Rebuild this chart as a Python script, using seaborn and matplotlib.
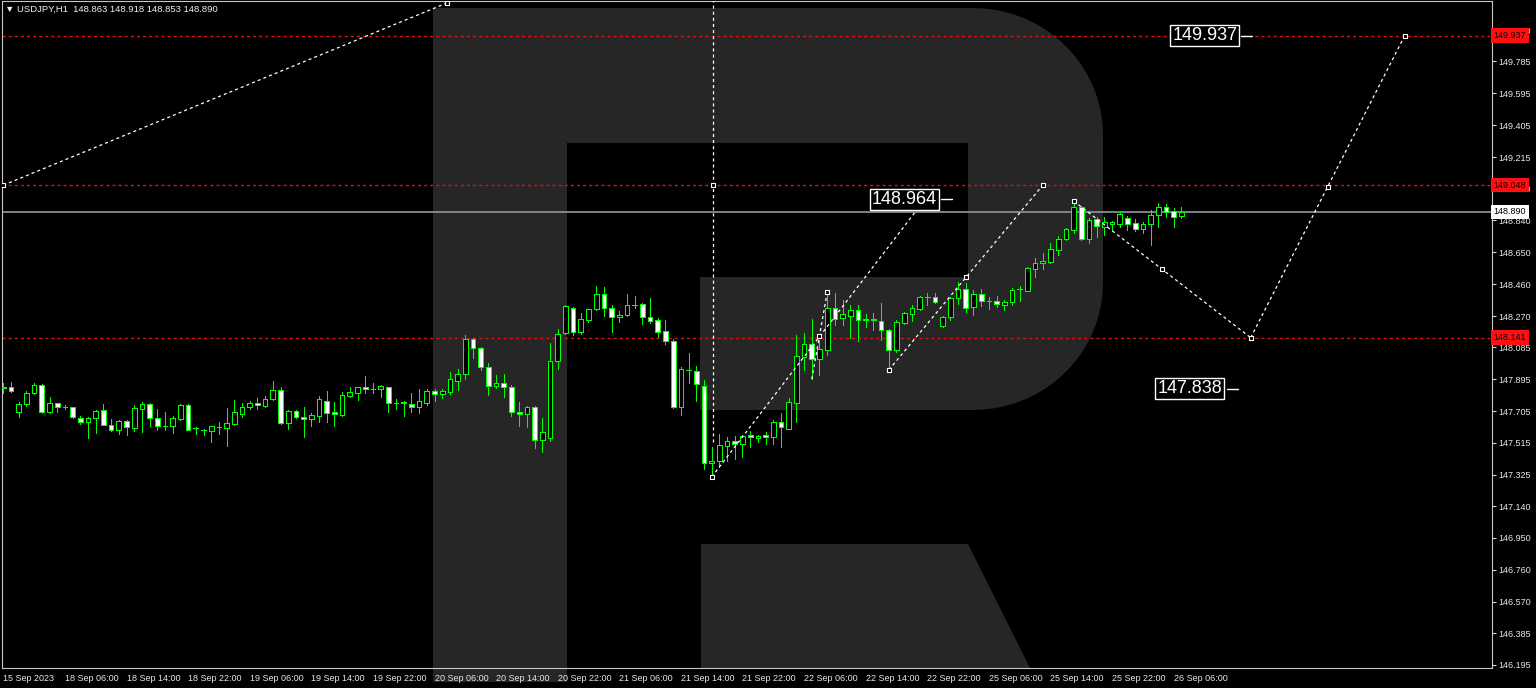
import numpy as np
import matplotlib
matplotlib.use('Agg')
import matplotlib.pyplot as plt
import matplotlib.transforms as mtransforms
from matplotlib.patches import Polygon
import seaborn as sns

# USDJPY H1 candles (bar 0 = 15 Sep 22:00 ... bar 153 = 26 Sep 07:00)
opens = [
    147.848, 147.847, 147.697, 147.745, 147.810, 147.860, 147.701, 147.751, 147.727, 147.727,
    147.662, 147.638, 147.662, 147.711, 147.624, 147.592, 147.646, 147.606, 147.719, 147.747,
    147.662, 147.618, 147.618, 147.660, 147.741, 147.606, 147.594, 147.588, 147.612, 147.606,
    147.628, 147.689, 147.727, 147.751, 147.737, 147.777, 147.830, 147.636, 147.705, 147.671,
    147.656, 147.677, 147.767, 147.699, 147.681, 147.792, 147.814, 147.848, 147.836, 147.834,
    147.846, 147.753, 147.761, 147.749, 147.731, 147.755, 147.824, 147.806, 147.820, 147.886,
    147.927, 148.133, 148.082, 147.967, 147.856, 147.870, 147.846, 147.699, 147.686, 147.729,
    147.531, 147.547, 148.004, 148.167, 148.316, 148.177, 148.246, 148.310, 148.401, 148.316,
    148.262, 148.274, 148.335, 148.341, 148.266, 148.246, 148.181, 148.123, 147.727, 147.949,
    147.945, 147.856, 147.398, 147.410, 147.497, 147.529, 147.509, 147.561, 147.543, 147.561,
    147.549, 147.642, 147.600, 147.755, 148.028, 148.104, 148.012, 148.068, 148.316, 148.260,
    148.272, 148.306, 148.250, 148.250, 148.242, 148.187, 148.068, 148.227, 148.280, 148.310,
    148.385, 148.385, 148.212, 148.266, 148.375, 148.429, 148.324, 148.403, 148.359, 148.358,
    148.338, 148.356, 148.429, 148.420, 148.551, 148.583, 148.593, 148.665, 148.726, 148.783,
    148.918, 148.726, 148.845, 148.801, 148.816, 148.815, 148.854, 148.821, 148.787, 148.815,
    148.870, 148.916, 148.894, 148.863]
highs = [
    147.872, 147.876, 147.761, 147.824, 147.870, 147.866, 147.790, 147.755, 147.739, 147.731,
    147.675, 147.668, 147.711, 147.747, 147.660, 147.650, 147.652, 147.741, 147.761, 147.751,
    147.715, 147.699, 147.675, 147.747, 147.747, 147.612, 147.598, 147.614, 147.642, 147.721,
    147.769, 147.751, 147.763, 147.781, 147.794, 147.884, 147.846, 147.711, 147.711, 147.731,
    147.695, 147.794, 147.824, 147.761, 147.820, 147.850, 147.848, 147.913, 147.870, 147.858,
    147.850, 147.775, 147.765, 147.810, 147.836, 147.836, 147.836, 147.834, 147.937, 147.953,
    148.157, 148.137, 148.084, 147.989, 147.917, 147.923, 147.858, 147.759, 147.735, 147.735,
    147.662, 148.111, 148.193, 148.337, 148.322, 148.286, 148.312, 148.450, 148.444, 148.335,
    148.301, 148.401, 148.389, 148.345, 148.375, 148.256, 148.246, 148.131, 147.965, 148.048,
    147.975, 147.890, 147.493, 147.569, 147.552, 147.557, 147.563, 147.588, 147.560, 147.582,
    147.652, 147.692, 147.784, 148.157, 148.167, 148.250, 148.127, 148.411, 148.405, 148.365,
    148.335, 148.335, 148.280, 148.286, 148.345, 148.193, 148.246, 148.296, 148.335, 148.391,
    148.405, 148.405, 148.272, 148.385, 148.474, 148.468, 148.425, 148.428, 148.383, 148.389,
    148.368, 148.434, 148.448, 148.563, 148.615, 148.643, 148.702, 148.746, 148.793, 148.957,
    148.926, 148.851, 148.856, 148.857, 148.835, 148.888, 148.863, 148.845, 148.827, 148.900,
    148.940, 148.936, 148.910, 148.918]
lows = [
    147.812, 147.818, 147.668, 147.737, 147.804, 147.691, 147.695, 147.701, 147.715, 147.665,
    147.628, 147.546, 147.576, 147.620, 147.588, 147.570, 147.563, 147.588, 147.582, 147.616,
    147.592, 147.592, 147.576, 147.652, 147.592, 147.567, 147.561, 147.519, 147.570, 147.496,
    147.622, 147.671, 147.719, 147.719, 147.731, 147.771, 147.628, 147.598, 147.662, 147.552,
    147.616, 147.638, 147.638, 147.618, 147.677, 147.788, 147.771, 147.814, 147.814, 147.787,
    147.701, 147.719, 147.677, 147.699, 147.695, 147.741, 147.765, 147.784, 147.804, 147.828,
    147.895, 148.022, 147.949, 147.802, 147.840, 147.787, 147.677, 147.616, 147.612, 147.484,
    147.463, 147.529, 147.957, 148.161, 148.157, 148.163, 148.233, 148.306, 148.270, 148.177,
    148.236, 148.272, 148.316, 148.222, 148.226, 148.147, 148.104, 147.725, 147.681, 147.870,
    147.767, 147.359, 147.313, 147.374, 147.410, 147.420, 147.434, 147.493, 147.523, 147.509,
    147.509, 147.493, 147.596, 147.642, 147.949, 147.894, 147.919, 148.038, 148.216, 148.216,
    148.137, 148.121, 148.206, 148.187, 148.127, 147.949, 148.058, 148.222, 148.242, 148.306,
    148.335, 148.350, 148.206, 148.246, 148.341, 148.294, 148.276, 148.328, 148.309, 148.324,
    148.306, 148.335, 148.361, 148.416, 148.504, 148.548, 148.586, 148.633, 148.722, 148.766,
    148.720, 148.707, 148.738, 148.753, 148.779, 148.801, 148.783, 148.774, 148.765, 148.692,
    148.801, 148.860, 148.801, 148.853]
closes = [
    147.842, 147.824, 147.747, 147.814, 147.858, 147.699, 147.751, 147.727, 147.726, 147.668,
    147.638, 147.663, 147.707, 147.622, 147.594, 147.646, 147.608, 147.721, 147.747, 147.662,
    147.618, 147.617, 147.665, 147.741, 147.594, 147.605, 147.593, 147.614, 147.611, 147.636,
    147.697, 147.727, 147.751, 147.739, 147.778, 147.830, 147.636, 147.705, 147.667, 147.656,
    147.681, 147.775, 147.695, 147.686, 147.798, 147.818, 147.848, 147.834, 147.835, 147.854,
    147.751, 147.752, 147.751, 147.731, 147.763, 147.826, 147.806, 147.824, 147.894, 147.927,
    148.131, 148.080, 147.965, 147.856, 147.872, 147.846, 147.697, 147.686, 147.729, 147.531,
    147.579, 148.002, 148.161, 148.329, 148.177, 148.250, 148.312, 148.401, 148.316, 148.264,
    148.278, 148.335, 148.334, 148.266, 148.240, 148.177, 148.123, 147.727, 147.953, 147.948,
    147.864, 147.394, 147.410, 147.503, 147.529, 147.509, 147.559, 147.549, 147.559, 147.549,
    147.642, 147.608, 147.757, 148.032, 148.104, 148.012, 148.074, 148.319, 148.252, 148.284,
    148.306, 148.246, 148.249, 148.249, 148.187, 148.068, 148.233, 148.286, 148.316, 148.381,
    148.384, 148.352, 148.266, 148.375, 148.429, 148.319, 148.403, 148.358, 148.358, 148.341,
    148.353, 148.426, 148.428, 148.555, 148.588, 148.599, 148.668, 148.730, 148.787, 148.918,
    148.728, 148.841, 148.807, 148.827, 148.829, 148.875, 148.819, 148.788, 148.817, 148.872,
    148.916, 148.888, 148.860, 148.890]

# levels and forecast objects (bar index, price)
levels = [149.937, 149.048, 148.141]
bid = 148.890
seg_x = [[0, 57.6], [92.2, 92.2], [92, 119.7], [105, 107], [115, 135], [139, 162], [162, 182]]
seg_p = [[149.048, 150.131], [150.3, 147.515], [147.313, 148.964], [147.894, 148.411],
         [147.949, 149.048], [148.954, 148.141], [148.141, 149.937]]
mark_x = [0, 57.6, 92.2, 92, 107, 106, 115, 125, 135, 139, 150.5, 162, 172, 182]
mark_p = [149.048, 150.131, 149.048, 147.313, 148.411, 148.150, 147.949, 148.499, 149.048,
          148.954, 148.548, 148.141, 149.040, 149.937]
targets = [148.964, 149.937, 147.838]
target_x = [112.8, 151.8, 149.9]

yticks = [149.970, 149.785, 149.595, 149.405, 149.215, 149.030, 148.840, 148.650, 148.460,
          148.270, 148.085, 147.895, 147.705, 147.515, 147.325, 147.140, 146.950, 146.760,
          146.570, 146.385, 146.195]
xtick_bars = list(range(0, 153, 8))
xtick_labels = ['15 Sep 2023', '18 Sep 06:00', '18 Sep 14:00', '18 Sep 22:00', '19 Sep 06:00',
                '19 Sep 14:00', '19 Sep 22:00', '20 Sep 06:00', '20 Sep 14:00', '20 Sep 22:00',
                '21 Sep 06:00', '21 Sep 14:00', '21 Sep 22:00', '22 Sep 06:00', '22 Sep 14:00',
                '22 Sep 22:00', '25 Sep 06:00', '25 Sep 14:00', '25 Sep 22:00', '26 Sep 06:00']

sns.set_style('dark', rc={'axes.facecolor': 'black', 'figure.facecolor': 'black'})
plt.rcParams['font.family'] = ['Liberation Sans', 'DejaVu Sans']
plt.rcParams['lines.scale_dashes'] = False

W, H = 1536, 688
fig = plt.figure(figsize=(W / 100, H / 100), dpi=100, facecolor='black')
ax = fig.add_axes([2 / W, 20 / H, 1490 / W, 667 / H])
ax.set_facecolor('none')

# watermark "R" in pixel space
px = mtransforms.Affine2D().scale(1 / W, -1 / H).translate(0, 1) + fig.transFigure
t = np.linspace(np.pi / 2, 0, 20)
top_arc = np.c_[973 + 130 * np.cos(t), 135 - 127 * np.sin(t)]
bot_arc = np.c_[973 + 130 * np.cos(t[::-1]), 283 + 127 * np.sin(t[::-1])]
bowl = np.vstack([[[433, 8]], top_arc, bot_arc,
                  [[700, 410], [700, 277], [968, 277], [968, 143], [433, 143]]])
wm = '#262626'
for pts in [bowl, [[433, 8], [567, 8], [567, 682], [433, 682]],
            [[701, 544], [968, 544], [1030, 668], [701, 668]]]:
    fig.add_artist(Polygon(pts, closed=True, fc=wm, ec='none', transform=px, zorder=-1))

o = np.array(opens); c = np.array(closes)
x = np.arange(len(o))
up = c >= o
green = '#00ff00'
ax.vlines(x, lows, highs, color=green, lw=0.72, zorder=3, antialiased=False)
ax.bar(x[up], (c - o)[up], bottom=o[up], width=0.62, color='black', edgecolor=green,
       linewidth=0.72, zorder=4, antialiased=False)
ax.bar(x[~up], (o - c)[~up], bottom=c[~up], width=0.62, color='white', edgecolor=green,
       linewidth=0.72, zorder=4, antialiased=False)

for lv in levels:
    ax.axhline(lv, color='#e01010', lw=1, ls=(0, (2.2, 2.2)), zorder=2)
ax.axhline(bid, color='#868b99', lw=1.3, zorder=2)

for sx, sp in zip(seg_x, seg_p):
    ax.plot(sx, sp, color='white', lw=0.9, ls=(0, (2.2, 2.2)), zorder=5)
sns.scatterplot(x=mark_x, y=mark_p, ax=ax, marker='s', s=9, color='black',
                edgecolor='white', linewidth=0.8, zorder=6)

for tx, tp in zip(target_x, targets):
    ax.text(tx, tp, f'{tp:.3f}', color='white', fontsize=13, ha='left', va='center', zorder=7,
            bbox=dict(boxstyle='square,pad=0.12', fc='black', ec='white', lw=1))
    ax.plot([tx + 9.0, tx + 10.4], [tp, tp], color='white', lw=1, zorder=7)

ax.set_xlim(-0.17, 193.34)
ax.set_ylim(146.177, 150.143)
ax.yaxis.tick_right()
ax.set_yticks(yticks)
ax.set_yticklabels([f'{v:.3f}' for v in yticks])
ax.set_xticks(xtick_bars)
ax.set_xticklabels(xtick_labels, ha='left')
ax.tick_params(axis='both', colors='#d8d8d8', labelcolor='#e8e8e8', labelsize=6.5,
               direction='out', length=3, width=0.8, pad=1.5)
for sp in ax.spines.values():
    sp.set_visible(True)
    sp.set_color('#c8c8c8')
    sp.set_linewidth(0.8)
ax.grid(False)

ylab = mtransforms.blended_transform_factory(ax.transAxes, ax.transData)
for lv in levels:
    ax.text(1.001, lv, f'{lv:.3f}', transform=ylab, fontsize=6.5, color='#1a0000', ha='left',
            va='center', zorder=8, clip_on=False,
            bbox=dict(boxstyle='square,pad=0.3', fc='#ff1010', ec='none'))
ax.text(1.001, bid, f'{bid:.3f}', transform=ylab, fontsize=6.5, color='black', ha='left',
        va='center', zorder=8, clip_on=False,
        bbox=dict(boxstyle='square,pad=0.3', fc='white', ec='none'))

ax.text(3 / 1490, 1 - 8 / 667, '\u25bc USDJPY,H1  148.863 148.918 148.853 148.890',
        transform=ax.transAxes, fontsize=6.8, color='#f0f0f0', ha='left', va='center')

fig.savefig('out.png', dpi=100, facecolor='black')
